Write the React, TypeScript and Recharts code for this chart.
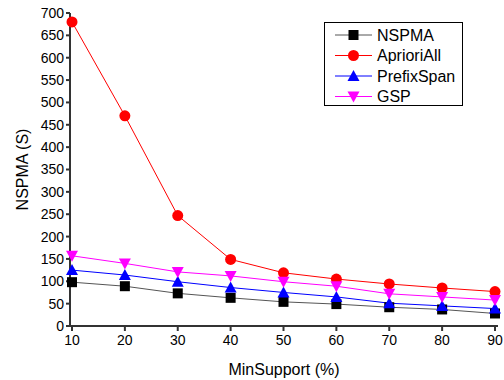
import { LineChart, Line, XAxis, YAxis } from 'recharts';

const minSupport = [10, 20, 30, 40, 50, 60, 70, 80, 90];
const nspma = [98, 89, 73, 63, 54, 49, 42, 37, 28];
const aprioriAll = [680, 470, 247, 149, 119, 105, 94, 85, 77];
const prefixSpan = [125, 114, 99, 86, 75, 65, 51, 45, 39];
const gsp = [157, 140, 121, 112, 99, 89, 72, 65, 58];
const yTicks = [0, 50, 100, 150, 200, 250, 300, 350, 400, 450, 500, 550, 600, 650, 700];

const data = minSupport.map((x, i) => ({
  x,
  NSPMA: nspma[i],
  AprioriAll: aprioriAll[i],
  PrefixSpan: prefixSpan[i],
  GSP: gsp[i],
}));

const FONT = '"Liberation Sans", Arial, sans-serif';

function Square({ cx, cy, fill }) {
  if (cx == null || cy == null) return null;
  return <rect x={cx - 5} y={cy - 5} width={10} height={10} fill={fill} />;
}
function Circle({ cx, cy, fill }) {
  if (cx == null || cy == null) return null;
  return <circle cx={cx} cy={cy} r={5.5} fill={fill} />;
}
function Up({ cx, cy, fill }) {
  if (cx == null || cy == null) return null;
  return <polygon points={`${cx},${cy - 6} ${cx - 6},${cy + 5} ${cx + 6},${cy + 5}`} fill={fill} />;
}
function Down({ cx, cy, fill }) {
  if (cx == null || cy == null) return null;
  return <polygon points={`${cx},${cy + 6} ${cx - 6},${cy - 5} ${cx + 6},${cy - 5}`} fill={fill} />;
}

const series = [
  { key: 'NSPMA', color: '#000000', line: '#555555', Shape: Square },
  { key: 'AprioriAll', color: '#ff0000', line: '#ff0000', Shape: Circle },
  { key: 'PrefixSpan', color: '#0000ff', line: '#0000ff', Shape: Up },
  { key: 'GSP', color: '#ff00ff', line: '#ff00ff', Shape: Down },
];

function LegendBox() {
  return (
    <svg width={140} height={85} style={{ display: 'block' }}>
      <rect x={0.5} y={0.5} width={138} height={83} fill="#fff" stroke="#000" strokeWidth={1} />
      {series.map((s, i) => {
        const y = 13 + i * 20.5;
        const S = s.Shape;
        return (
          <g key={s.key}>
            <line x1={11} x2={48} y1={y} y2={y} stroke={s.line} strokeWidth={1} />
            <S cx={29.5} cy={y} fill={s.color} />
            <text x={53} y={y + 5.5} fontSize={16} fontFamily={FONT} fill="#000">{s.key}</text>
          </g>
        );
      })}
    </svg>
  );
}

export default function App() {
  return (
    <div style={{ position: 'absolute', left: 0, top: 0, width: 504, height: 380, background: '#fff' }}>
      <LineChart width={504} height={380} data={data} margin={{ top: 13, right: 6, bottom: 0, left: 0 }}>
        <XAxis
          dataKey="x"
          type="number"
          domain={[10, 90]}
          ticks={minSupport}
          padding={{ left: 2, right: 3 }}
          height={54}
          stroke="#333"
          strokeWidth={2}
          tickSize={5}
          tick={{ fill: '#000', fontSize: 14, fontFamily: FONT }}
          tickMargin={4}
          label={{ value: 'MinSupport (%)', position: 'insideBottom', offset: 5, fill: '#000', fontSize: 16, fontFamily: FONT }}
        />
        <YAxis
          type="number"
          domain={[0, 700]}
          ticks={yTicks}
          interval={0}
          width={70}
          stroke="#333"
          strokeWidth={2}
          tickSize={4}
          tick={{ fill: '#000', fontSize: 14, fontFamily: FONT }}
          tickMargin={2}
          label={{ value: 'NSPMA (S)', angle: -90, position: 'insideLeft', offset: 22, fill: '#000', fontSize: 16, fontFamily: FONT, style: { textAnchor: 'middle' } }}
        />
        {series.map((s) => (
          <Line
            key={s.key}
            type="linear"
            dataKey={s.key}
            stroke={s.line}
            strokeWidth={1}
            dot={<s.Shape fill={s.color} />}
            activeDot={false}
            isAnimationActive={false}
          />
        ))}
      </LineChart>
      <div style={{ position: 'absolute', left: 324, top: 22 }}>
        <LegendBox />
      </div>
    </div>
  );
}
